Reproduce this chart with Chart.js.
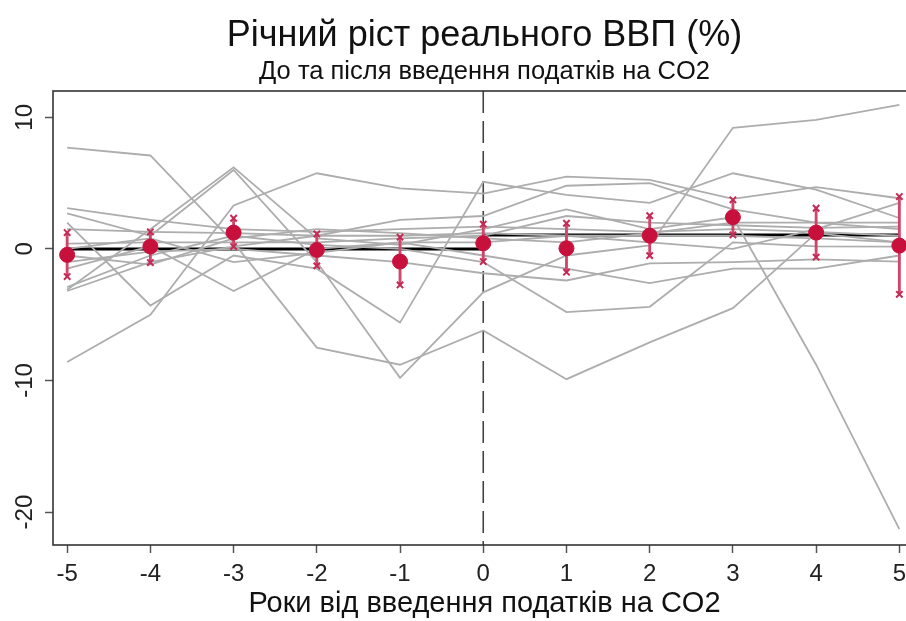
<!DOCTYPE html>
<html>
<head>
<meta charset="utf-8">
<script src="https://cdn.jsdelivr.net/npm/chart.js@4.4.1/dist/chart.umd.min.js"></script>
<style>
  html, body { margin: 0; padding: 0; background: #fff; overflow: hidden; }
  #wrap { width: 920px; height: 621px; }
</style>
</head>
<body>
<div id="wrap"><canvas id="chart" width="920" height="621"></canvas></div>
<script>
// ── Data ─────────────────────────────────────────────────────────
const years = [-5, -4, -3, -2, -1, 0, 1, 2, 3, 4, 5];
const yTicks = [10, 0, -10, -20];

// country paths (annual real GDP growth, %)
const gdp01 = [7.7, 7.1, 0.5, -7.5, -8.8, -6.2, -9.9, -7.1, -4.5, 1.2, 0.5];
const gdp02 = [-8.6, -5.0, 3.3, 5.75, 4.6, 4.2, 5.5, 5.25, 3.8, 4.7, 3.85];
const gdp03 = [-3.1, 1.5, 6.2, 0.8, 0.3, 1.5, 3.0, 1.5, 2.4, -8.8, -21.3];
const gdp04 = [2.7, 1.0, 6.0, -1.0, -9.8, -3.3, -0.5, 0.26, 9.2, 9.8, 10.95];
const gdp05 = [3.1, 2.2, 1.5, 1.3, 1.5, 1.7, 1.5, 1.3, 1.5, 1.3, 1.0];
const gdp06 = [1.5, 1.3, 1.2, 1.0, 1.0, 1.2, 1.0, 1.0, 1.0, 0.8, 0.5];
const gdp07 = [2.0, -4.3, -0.5, -1.5, -5.6, 5.1, 4.1, 3.5, 5.75, 4.5, 2.35];
const gdp08 = [0.4, 0.5, 0.5, 0.5, 0.8, 1.0, 2.5, 2.0, 1.8, 1.6, 1.7];
const gdp09 = [-1.0, -0.2, 0.0, -0.5, -1.0, -1.85, -2.4, -1.1, -1.0, -0.8, -0.96];
const gdp10 = [-1.5, 0.2, -3.2, 0.0, 0.5, -0.5, -1.5, -2.6, -1.5, -1.5, -0.5];
const gdp11 = [-2.9, -0.5, 1.0, 0.3, 0.0, -1.0, -4.8, -4.4, 0.5, 0.2, 0.18];
const gdp12 = [-3.2, -1.0, 0.2, 1.0, 2.2, 2.5, 4.8, 5.0, 3.0, 2.0, 2.0];
const gdp13 = [0.0, 0.8, -1.0, -0.3, 0.5, 0.5, 1.0, 0.5, 0.0, 1.5, 3.5];
const gdp14 = [-0.5, -1.2, 0.8, 1.5, 1.2, 0.8, 0.5, 1.2, 2.0, 2.0, 1.5];

// average across countries with confidence interval
const meanGrowth = [-0.45, 0.18, 1.24, -0.08, -0.96, 0.43, 0.05, 1.01, 2.41, 1.24, 0.25];
const ciUpper = [1.24, 1.3, 2.33, 1.14, 0.89, 1.88, 1.95, 2.53, 3.73, 3.09, 3.98];
const ciLower = [-2.1, -1.04, 0.18, -1.29, -2.74, -0.96, -1.77, -0.51, 1.06, -0.63, -3.45];

// period averages (before / after the tax)
const preYears = [-5, 0];
const preAvg = [0, 0];
const postYears = [0, 5];
const postAvg = [1.05, 1.05];

const TITLE = "Річний ріст реального ВВП (%)";
const SUBTITLE = "До та після введення податків на CO2";
const X_TITLE = "Роки від введення податків на CO2";

// ── Helpers ──────────────────────────────────────────────────────
const FONT = "'Liberation Sans', Arial, sans-serif";
const pts = (xs, ys) => xs.map((x, i) => ({ x, y: ys[i] }));

const countries = [gdp01, gdp02, gdp03, gdp04, gdp05, gdp06, gdp07,
                   gdp08, gdp09, gdp10, gdp11, gdp12, gdp13, gdp14];

const grayLines = countries.map(s => ({
  type: "line",
  data: pts(years, s),
  borderColor: "#adadad",
  borderWidth: 1.8,
  pointRadius: 0,
  tension: 0,
  order: 2,
}));

// ── Plugins ──────────────────────────────────────────────────────
const framePlugin = {
  id: "frame",
  beforeDatasetsDraw(chart) {
    const { ctx, chartArea: a, scales } = chart;
    // dashed line at the year of introduction
    const x0 = scales.x.getPixelForValue(0);
    ctx.save();
    ctx.strokeStyle = "#444";
    ctx.lineWidth = 1.6;
    ctx.setLineDash([22, 8]);
    ctx.beginPath();
    ctx.moveTo(x0, a.top);
    ctx.lineTo(x0, a.bottom);
    ctx.stroke();
    ctx.restore();
  },
  afterDraw(chart) {
    const { ctx, chartArea: a, scales } = chart;
    ctx.save();
    // box
    ctx.strokeStyle = "#333";
    ctx.lineWidth = 1.6;
    ctx.strokeRect(a.left, a.top, a.right - a.left, a.bottom - a.top);
    // rotated y labels
    ctx.fillStyle = "#222";
    ctx.font = "24px " + FONT;
    ctx.textAlign = "center";
    ctx.textBaseline = "middle";
    yTicks.forEach(v => {
      const y = scales.y.getPixelForValue(v);
      ctx.save();
      ctx.translate(25, y);
      ctx.rotate(-Math.PI / 2);
      ctx.fillText(String(v), 0, 0);
      ctx.restore();
    });
    // titles
    const cx = (a.left + a.right) / 2;
    ctx.fillStyle = "#111";
    ctx.font = "36px " + FONT;
    ctx.fillText(TITLE, cx, 36);
    ctx.font = "25.5px " + FONT;
    ctx.fillText(SUBTITLE, cx, 72);
    ctx.restore();
  },
};

// ── Chart ────────────────────────────────────────────────────────
new Chart(document.getElementById("chart"), {
  type: "line",
  data: {
    datasets: [
      {
        type: "scatter",
        data: pts(years, meanGrowth),
        pointRadius: 7.5,
        pointBackgroundColor: "#c8103c",
        pointBorderColor: "#c8103c",
        pointBorderWidth: 1,
        showLine: false,
        order: 0,
      },
      {
        type: "scatter",
        data: pts(years, ciUpper).concat(pts(years, ciLower)),
        pointStyle: "crossRot",
        pointRadius: 4.5,
        pointBorderColor: "#c42a55",
        pointBorderWidth: 2,
        showLine: false,
        order: 1,
      },
      {
        type: "bar",
        data: years.map((x, i) => ({ x, y: [ciLower[i], ciUpper[i]] })),
        backgroundColor: "#d0456b",
        barThickness: 2.2,
        order: 1,
      },
      ...grayLines,
      {
        type: "line",
        data: pts(preYears, preAvg),
        borderColor: "#000",
        borderWidth: 3,
        pointRadius: 0,
        order: 3,
      },
      {
        type: "line",
        data: pts(postYears, postAvg),
        borderColor: "#000",
        borderWidth: 3,
        pointRadius: 0,
        order: 3,
      },
    ],
  },
  options: {
    responsive: false,
    animation: false,
    events: [],
    layout: { autoPadding: false, padding: { top: 91, right: 4, left: 0, bottom: 0 } },
    plugins: { legend: { display: false }, tooltip: { enabled: false } },
    scales: {
      x: {
        type: "linear",
        min: -5.17,
        max: 5.2,
        offset: false,
        afterFit: s => { s.height = 76; s.paddingLeft = 0; s.paddingRight = 0; },
        afterBuildTicks: s => { s.ticks = years.map(v => ({ value: v })); },
        border: { display: false },
        grid: { offset: false, drawOnChartArea: false, drawTicks: true, tickLength: 8, tickColor: "#555", tickWidth: 1.5 },
        ticks: { color: "#222", font: { family: FONT, size: 24 }, padding: 7, maxRotation: 0, autoSkip: false },
        title: {
          display: true,
          text: X_TITLE,
          color: "#111",
          font: { family: FONT, size: 29 },
          padding: { top: 0, bottom: 0 },
        },
      },
      y: {
        type: "linear",
        min: -22.5,
        max: 12,
        afterFit: s => { s.width = 53; s.paddingTop = 0; s.paddingBottom = 0; },
        afterBuildTicks: s => { s.ticks = yTicks.map(v => ({ value: v })); },
        border: { display: false },
        grid: { drawOnChartArea: false, drawTicks: true, tickLength: 8, tickColor: "#555", tickWidth: 1.5 },
        ticks: { callback: () => "", padding: 0 },
      },
    },
  },
  plugins: [framePlugin],
});
</script>
</body>
</html>
